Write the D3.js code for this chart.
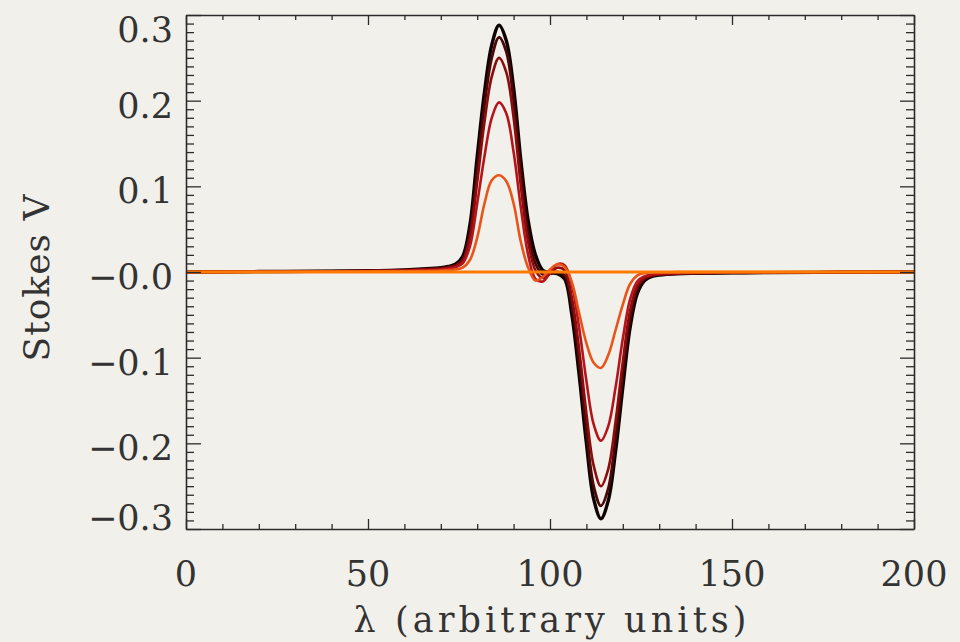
<!DOCTYPE html>
<meta charset="utf-8">
<script src="https://d3js.org/d3.v7.min.js"></script>
<style>
  body { margin: 0; background: #f2f0eb; }
  svg { display: block; }
  text { font-family: "DejaVu Serif", serif; fill: #333; }
</style>
<body>
<div id="chart"></div>
<script>
  // wavelength grid (arbitrary units)
  var lambda = [0, 20, 40, 50, 60, 65, 70, 72, 74, 76, 78, 80, 82, 84, 86, 88, 90, 92, 94, 96, 98,
    100, 102, 104, 106, 108, 110, 112, 114, 116, 118, 120, 122, 124, 126, 128, 130, 135, 140, 150, 160, 180, 200];

  // Stokes V profiles, strongest first
  var vBlack = [0, 0.0005, 0.001, 0.0015, 0.0025, 0.0035, 0.005, 0.0065, 0.009, 0.018, 0.055, 0.135, 0.21, 0.265, 0.288, 0.27, 0.215, 0.13, 0.06, 0.02, 0.002,
    -0.001, -0.002, -0.008, -0.05, -0.12, -0.2, -0.265, -0.288, -0.267, -0.21, -0.135, -0.065, -0.025, -0.01, -0.005, -0.0035, -0.002, -0.0015, -0.001, -0.0007, -0.0003, 0];
  var vMaroon = [0, 0.0005, 0.001, 0.0014, 0.0023, 0.0032, 0.0045, 0.006, 0.008, 0.015, 0.046, 0.12, 0.195, 0.25, 0.274, 0.257, 0.2, 0.115, 0.045, 0.01, -0.003,
    -0.002, 0.0, -0.004, -0.04, -0.105, -0.185, -0.25, -0.273, -0.253, -0.195, -0.12, -0.055, -0.02, -0.008, -0.0045, -0.003, -0.002, -0.0014, -0.001, -0.0006, -0.0003, 0];
  var vDarkRed = [0, 0.0004, 0.0009, 0.0012, 0.002, 0.0028, 0.004, 0.005, 0.007, 0.013, 0.04, 0.105, 0.175, 0.228, 0.25, 0.233, 0.18, 0.1, 0.035, 0.002, -0.007,
    -0.002, 0.005, 0.002, -0.03, -0.09, -0.165, -0.226, -0.25, -0.23, -0.175, -0.105, -0.045, -0.016, -0.007, -0.004, -0.0028, -0.0018, -0.0012, -0.0008, -0.0005, -0.0002, 0];
  var vRed = [0, 0.0003, 0.0007, 0.001, 0.0016, 0.0022, 0.003, 0.004, 0.0055, 0.01, 0.03, 0.08, 0.135, 0.18, 0.198, 0.185, 0.14, 0.075, 0.02, -0.008, -0.011,
    -0.001, 0.009, 0.008, -0.015, -0.065, -0.127, -0.178, -0.197, -0.18, -0.135, -0.078, -0.032, -0.011, -0.005, -0.003, -0.002, -0.0013, -0.001, -0.0006, -0.0004, -0.0002, 0];
  var vOrangeRed = [0, 0.0002, 0.0004, 0.0006, 0.0009, 0.0012, 0.0017, 0.0022, 0.003, 0.005, 0.014, 0.04, 0.08, 0.107, 0.113, 0.106, 0.08, 0.035, 0.005, -0.01, -0.006,
    0.003, 0.009, 0.006, -0.012, -0.048, -0.083, -0.106, -0.112, -0.097, -0.068, -0.038, -0.014, -0.004, -0.001, -0.0005, -0.0003, -0.0002, -0.0001, 0, 0, 0, 0];
  // zero-field profile: flat
  var lambdaFlat = [0, 200];
  var vFlat = [0, 0];

  var seriesColors = ["#0d0302", "#4a0806", "#8a0c0c", "#b5141a", "#ea5418", "#ff7a00"];
  var seriesWidths = [3.4, 2.8, 2.6, 2.6, 2.6, 2.8];

  var xTicks = [0, 50, 100, 150, 200];
  var xTickLabels = ["0", "50", "100", "150", "200"];
  var yTicks = [0.3, 0.2, 0.1, 0, -0.1, -0.2, -0.3];
  var yTickLabels = ["0.3", "0.2", "0.1", "\u22120.0", "\u22120.1", "\u22120.2", "\u22120.3"];

  var W = 960, H = 642;
  var margin = {top: 15, right: 46, bottom: 113, left: 186},
      width = W - margin.left - margin.right,
      height = H - margin.top - margin.bottom;

  var svg = d3.select("#chart").append("svg")
      .attr("width", W).attr("height", H);

  svg.append("rect").attr("width", W).attr("height", H).attr("fill", "#f2f0eb");

  var g = svg.append("g")
      .attr("transform", `translate(${margin.left},${margin.top})`);

  var x = d3.scaleLinear().domain([0, 200]).range([0, width]);
  var y = d3.scaleLinear().domain([-0.3, 0.3]).range([height, 0]);

  var series = [
    {xs: lambda, ys: vBlack},
    {xs: lambda, ys: vMaroon},
    {xs: lambda, ys: vDarkRed},
    {xs: lambda, ys: vRed},
    {xs: lambda, ys: vOrangeRed},
    {xs: lambdaFlat, ys: vFlat}
  ];

  var line = d3.line()
      .x(function(d) { return x(d[0]); })
      .y(function(d) { return y(d[1]); })
      .curve(d3.curveCatmullRom.alpha(0.5));

  g.selectAll("path.profile")
    .data(series)
    .join("path")
      .attr("class", "profile")
      .attr("d", function(s) { return line(s.xs.map(function(v, i) { return [v, s.ys[i]]; })); })
      .attr("fill", "none")
      .attr("stroke", function(s, i) { return seriesColors[i]; })
      .attr("stroke-width", function(s, i) { return seriesWidths[i]; })
      .attr("stroke-linejoin", "round");

  // frame: ticks on all four sides, pointing inwards
  var axisColor = "#2b2b2b";
  var xMinor = d3.range(0, 201, 10);
  var yMinor = d3.range(-30, 31).map(function(k) { return k / 100; });

  var xb = g.append("g").attr("transform", `translate(0,${height})`)
    .call(d3.axisBottom(x).tickValues(xMinor).tickFormat("").tickSizeOuter(0).tickSizeInner(0));
  xb.selectAll(".tick line").attr("y2", function(d) { return d % 50 === 0 ? -10 : -5; });

  var xt = g.append("g")
    .call(d3.axisTop(x).tickValues(xMinor).tickFormat("").tickSizeOuter(0).tickSizeInner(0));
  xt.selectAll(".tick line").attr("y2", function(d) { return d % 50 === 0 ? 10 : 5; });

  var yl = g.append("g")
    .call(d3.axisLeft(y).tickValues(yMinor).tickFormat("").tickSizeOuter(0).tickSizeInner(0));
  yl.selectAll(".tick line").attr("x2", function(d) { return Math.round(d * 100) % 10 === 0 ? 15 : 8; });

  var yr = g.append("g").attr("transform", `translate(${width},0)`)
    .call(d3.axisRight(y).tickValues(yMinor).tickFormat("").tickSizeOuter(0).tickSizeInner(0));
  yr.selectAll(".tick line").attr("x2", function(d) { return Math.round(d * 100) % 10 === 0 ? -14 : -8; });

  g.selectAll(".domain").attr("stroke", axisColor).attr("stroke-width", 1.6);
  g.selectAll(".tick line").attr("stroke", axisColor).attr("stroke-width", 1.3);

  // tick labels
  g.selectAll("text.xlab")
    .data(xTicks)
    .join("text")
      .attr("class", "xlab")
      .attr("x", function(d) { return x(d); })
      .attr("y", height + 57)
      .attr("text-anchor", "middle")
      .style("font-size", "35px")
      .text(function(d, i) { return xTickLabels[i]; });

  g.selectAll("text.ylab")
    .data(yTicks)
    .join("text")
      .attr("class", "ylab")
      .attr("x", -13)
      .attr("y", function(d) { return Math.max(27, Math.min(height + 1, y(d) + 17)); })
      .attr("text-anchor", "end")
      .style("font-size", "35px")
      .text(function(d, i) { return yTickLabels[i]; });

  // axis titles
  svg.append("text")
    .attr("x", margin.left + width / 2)
    .attr("y", 632)
    .attr("text-anchor", "middle")
    .attr("textLength", 393)
    .attr("lengthAdjust", "spacing")
    .style("font-size", "35px")
    .text("\u03bb (arbitrary units)");

  svg.append("text")
    .attr("transform", "translate(49,278) rotate(-90)")
    .attr("text-anchor", "middle")
    .attr("textLength", 167)
    .attr("lengthAdjust", "spacing")
    .style("font-size", "36px")
    .text("Stokes V");
</script>
</body>
